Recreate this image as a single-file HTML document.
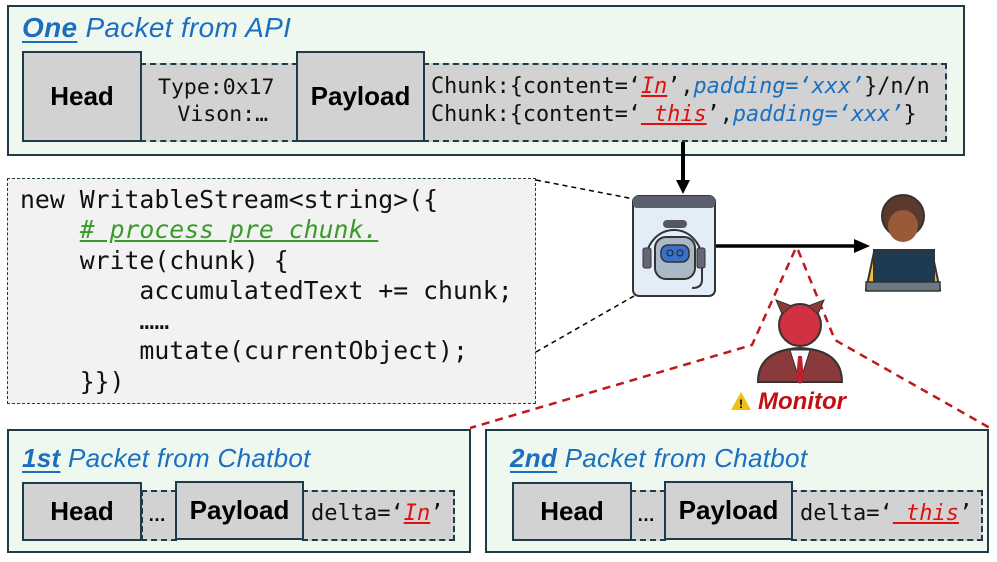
<!DOCTYPE html>
<html><head><meta charset="utf-8"><style>
body{margin:0;width:997px;height:562px;background:#fff;position:relative;overflow:hidden;font-family:"Liberation Sans",sans-serif}
.a{position:absolute;box-sizing:border-box}
.box{background:#eff8ee;border:2.5px solid #1f3a48}
.solid{background:#d2d2d2;border:2.5px solid #1f3a48;display:flex;align-items:center;justify-content:center;font-weight:bold;color:#000}
.dash{background:#d2d2d2;border:2.5px dashed #1f3a48}
.mono{font-family:"DejaVu Sans Mono","Liberation Mono",monospace;white-space:pre;color:#111}
.title{color:#1a6fc0;font-style:italic;white-space:nowrap;letter-spacing:0.3px}
.title b{text-decoration:underline;text-underline-offset:4px}
.red{color:#e01010;font-style:italic;text-decoration:underline}
.blue{color:#1a6fc0;font-style:italic}
</style></head><body>

<div class="a box" style="left:7px;top:5px;width:958px;height:151px"></div>
<div class="a title" style="left:22px;top:12px;font-size:28px"><b>One</b> Packet from API</div>
<div class="a dash" style="left:140px;top:63px;width:158px;height:79px"></div>
<div class="a mono" style="left:158px;top:74px;font-size:21.5px;line-height:27px;text-align:center">Type:0x17
 Vison:…</div>
<div class="a dash" style="left:423px;top:63px;width:524px;height:79px"></div>
<div class="a solid" style="left:22px;top:51px;width:120px;height:91px;font-size:26px">Head</div>
<div class="a solid" style="left:296px;top:51px;width:129px;height:91px;font-size:26px">Payload</div>
<div class="a mono" style="left:431px;top:73px;font-size:21.8px;line-height:28px">Chunk:{content=‘<span class="red">In</span>’,<span class="blue">padding=‘xxx’</span>}/n/n
Chunk:{content=‘<span class="red"> this</span>’,<span class="blue">padding=‘xxx’</span>}</div>

<div class="a" style="left:7px;top:178px;width:529px;height:226px;background:#f2f2f2;border:1.5px dashed #1f3a48"></div>
<div class="a mono" style="left:20px;top:185px;font-size:24.8px;line-height:30.3px">new WritableStream&lt;string&gt;({
    <span style="color:#3a9a2a;font-style:italic;text-decoration:underline"># process pre chunk.</span>
    write(chunk) {
        accumulatedText += chunk;
        ……
        mutate(currentObject);
    }})</div>

<svg class="a" style="left:0;top:0" width="997" height="562">
<line x1="683" y1="142" x2="683" y2="182" stroke="#000" stroke-width="4"/>
<polygon points="676,180 690,180 683,194" fill="#000"/>
<line x1="536" y1="180" x2="634" y2="199" stroke="#000" stroke-width="1.5" stroke-dasharray="5,4"/>
<line x1="536" y1="352" x2="634" y2="296" stroke="#000" stroke-width="1.5" stroke-dasharray="5,4"/>
<line x1="716" y1="246" x2="856" y2="246" stroke="#000" stroke-width="3.5"/>
<polygon points="854,239 870,246 854,253" fill="#000"/>
<g fill="none" stroke="#c01818" stroke-width="2.5" stroke-dasharray="8,6">
<polyline points="795,250 752,345 470,428"/>
<polyline points="798,250 835,340 990,428"/>
</g>
<rect x="633" y="196" width="82" height="100" rx="6" fill="#e3edf8" stroke="#333" stroke-width="2"/>
<rect x="633" y="196" width="82" height="12" rx="4" fill="#5a6070"/>
<path d="M646,260 a28,30 0 0 1 56,0 v20 q0,8 -10,8" fill="none" stroke="#333" stroke-width="2"/>
<rect x="643" y="248" width="8" height="20" rx="2" fill="#667" stroke="#333"/>
<rect x="697" y="248" width="8" height="20" rx="2" fill="#667" stroke="#333"/>
<rect x="663" y="220" width="24" height="8" rx="4" fill="#556"/>
<rect x="655" y="237" width="40" height="42" rx="11" fill="#aab8c8" stroke="#333" stroke-width="2"/>
<rect x="661" y="245" width="28" height="17" rx="7" fill="#3a70c8" stroke="#333" stroke-width="1.5"/>
<circle cx="670" cy="253" r="3" fill="none" stroke="#222"/>
<circle cx="680" cy="253" r="3" fill="none" stroke="#222"/>
<circle cx="903" cy="216" r="21" fill="#5a3a2a" stroke="#333" stroke-width="2"/>
<ellipse cx="903" cy="226" rx="15" ry="16" fill="#9a5a3a"/>
<path d="M866,290 l8,-38 h58 l8,38 z" fill="#f0c040" stroke="#333" stroke-width="2"/>
<rect x="874" y="250" width="60" height="34" fill="#1e3a50" stroke="#333" stroke-width="2"/>
<rect x="866" y="282" width="74" height="9" fill="#6a7a80" stroke="#333" stroke-width="1.5"/>
<path d="M758,382 q0,-32 42,-34 q42,2 42,34 z" fill="#8a3a3a" stroke="#333" stroke-width="2"/>
<path d="M790,350 l10,32 l10,-32 z" fill="#fff" stroke="#333" stroke-width="1"/>
<polygon points="798,356 802,356 804,380 800,384 796,380" fill="#c02030"/>
<circle cx="800" cy="325" r="21" fill="#d03040" stroke="#333" stroke-width="2"/>
<polygon points="782,314 776,300 792,306" fill="#8a3a3a" stroke="#333"/>
<polygon points="818,314 824,300 808,306" fill="#8a3a3a" stroke="#333"/>
<polygon points="741,392 751,410 731,410" fill="#f0c010"/>
<text x="741" y="408" font-size="12" text-anchor="middle" font-weight="bold" fill="#000" font-family="Liberation Sans">!</text>
</svg>
<div class="a" style="left:758px;top:388px;font-size:24px;font-weight:bold;font-style:italic;color:#c01010">Monitor</div>

<div class="a box" style="left:7px;top:429px;width:464px;height:124px"></div>
<div class="a title" style="left:22px;top:443px;font-size:26px"><b>1st</b> Packet from Chatbot</div>
<div class="a dash" style="left:141px;top:490px;width:36px;height:51px"></div>
<div class="a" style="left:148px;top:505px;font-size:18px;font-weight:bold">…</div>
<div class="a dash" style="left:302px;top:490px;width:153px;height:51px"></div>
<div class="a solid" style="left:22px;top:482px;width:120px;height:59px;font-size:26px">Head</div>
<div class="a solid" style="left:175px;top:481px;width:129px;height:59px;font-size:26px">Payload</div>
<div class="a mono" style="left:311px;top:501px;font-size:22px">delta=‘<span class="red">In</span>’</div>

<div class="a box" style="left:485px;top:429px;width:504px;height:124px"></div>
<div class="a title" style="left:510px;top:443px;font-size:26px"><b>2nd</b> Packet from Chatbot</div>
<div class="a dash" style="left:630px;top:490px;width:36px;height:51px"></div>
<div class="a" style="left:637px;top:505px;font-size:18px;font-weight:bold">…</div>
<div class="a dash" style="left:791px;top:490px;width:192px;height:51px"></div>
<div class="a solid" style="left:512px;top:482px;width:120px;height:59px;font-size:26px">Head</div>
<div class="a solid" style="left:664px;top:481px;width:129px;height:59px;font-size:26px">Payload</div>
<div class="a mono" style="left:800px;top:501px;font-size:22px">delta=‘<span class="red"> this</span>’</div>
</body></html>
